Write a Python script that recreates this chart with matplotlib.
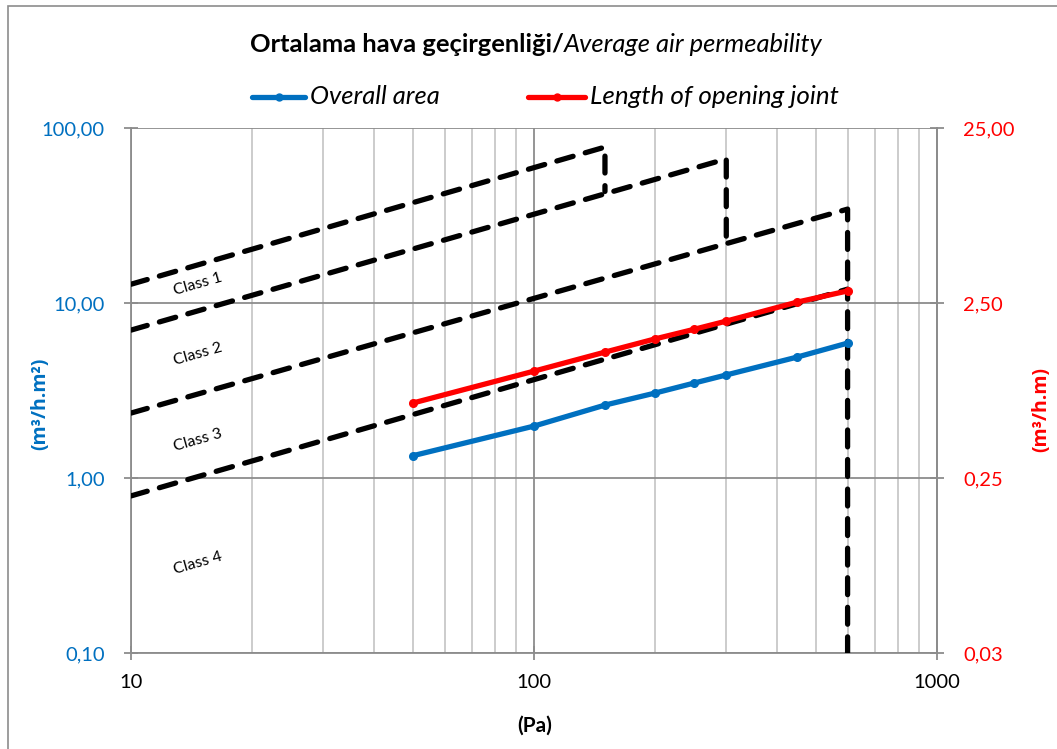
import matplotlib
matplotlib.use("Agg")
import matplotlib.pyplot as plt
from matplotlib.lines import Line2D
from matplotlib.patches import Rectangle
from matplotlib.ticker import FixedLocator, NullLocator, FixedFormatter, LogLocator

plt.rcParams['font.family'] = ['Lato', 'DejaVu Sans']

# ---------------- data ----------------
pressure = [50, 100, 150, 200, 250, 300, 450, 600]
overall_area = [1.34, 1.98, 2.61, 3.06, 3.49, 3.88, 4.91, 5.90]          # m3/h.m2 (left)
opening_joint = [0.67, 1.02, 1.31, 1.56, 1.77, 1.97, 2.53, 2.93]         # m3/h.m (right)

class1_x = [10, 150, 150]
class1_y = [12.8, 77.8, 43.4]
class2_x = [10, 300, 300]
class2_y = [7.0, 66.6, 22.6]
class3_x = [10, 600, 600]
class3_y = [2.35, 34.4, 12.0]
class4_x = [10, 600, 600]
class4_y = [0.79, 12.0, 0.10]

left_ticks = [0.1, 1, 10, 100]
left_labels = ['0,10', '1,00', '10,00', '100,00']
right_ticks = [0.025, 0.25, 2.5, 25]
right_labels = ['0,03', '0,25', '2,50', '25,00']
x_ticks = [10, 100, 1000]
x_labels = ['10', '100', '1000']

class_labels = ['Class 1', 'Class 2', 'Class 3', 'Class 4']

BLUE = '#0070C0'
RED = '#FF0000'
GRID_MAJ = '#8C8C8C'
GRID_MIN = '#BFBFBF'

W, H = 1057, 749
fig = plt.figure(figsize=(W / 100, H / 100), dpi=100)

# outer border
fig.add_artist(Rectangle((8 / W, -0.05), 1.2, 1 - 6 / H + 0.05, transform=fig.transFigure,
                         fill=False, edgecolor='#8C8C8C', lw=1.2))

L, R, T, B = 131, 937, 128, 653
ax = fig.add_axes([L / W, 1 - B / H, (R - L) / W, (B - T) / H])
ax.set_xscale('log')
ax.set_yscale('log')
ax.set_xlim(10, 1000)
ax.set_ylim(0.1, 100)

# grid
ax.xaxis.set_major_locator(FixedLocator(x_ticks))
ax.xaxis.set_major_formatter(FixedFormatter(x_labels))
ax.xaxis.set_minor_locator(LogLocator(base=10, subs=range(2, 10)))
ax.yaxis.set_major_locator(FixedLocator(left_ticks))
ax.yaxis.set_major_formatter(FixedFormatter(left_labels))
ax.yaxis.set_minor_locator(NullLocator())
ax.grid(True, which='major', color=GRID_MAJ, lw=1.3)
ax.grid(True, which='minor', axis='x', color=GRID_MIN, lw=1.1)
ax.set_axisbelow(True)
for s in ax.spines.values():
    s.set_color(GRID_MAJ)
    s.set_linewidth(1.3)
ax.spines['top'].set_visible(False)

ax.tick_params(axis='both', which='major', direction='inout', length=10, width=1.3,
               color=GRID_MAJ, labelsize=14.5)
ax.tick_params(axis='x', which='minor', length=0)
ax.tick_params(axis='x', which='major', pad=10, labelcolor='black')
ax.tick_params(axis='y', which='major', pad=14, labelcolor=BLUE)

# class lines
dash_kw = dict(color='black', lw=3.8, linestyle=(0, (3.2, 2.4)), dash_capstyle='round',
               zorder=3)
ax.plot(class1_x, class1_y, **dash_kw)
ax.plot(class2_x, class2_y, **dash_kw)
ax.plot(class3_x, class3_y, **dash_kw)
ax.plot(class4_x, class4_y, **dash_kw)

# overall area (left)
ax.plot(pressure, overall_area, color=BLUE, lw=3.8, marker='o', markersize=5.5,
        solid_capstyle='round', zorder=5)

# right axis
ax2 = ax.twinx()
ax2.set_yscale('log')
ax2.set_ylim(right_ticks[0], right_ticks[-1])
ax2.yaxis.set_major_locator(FixedLocator(right_ticks))
ax2.yaxis.set_major_formatter(FixedFormatter(right_labels))
ax2.yaxis.set_minor_locator(NullLocator())
for s in ax2.spines.values():
    s.set_visible(False)
ax2.spines['right'].set_visible(True)
ax2.spines['right'].set_color(GRID_MAJ)
ax2.spines['right'].set_linewidth(1.3)
ax2.tick_params(axis='y', which='major', direction='inout', length=10, width=1.3,
                color=GRID_MAJ, labelsize=14.5, labelcolor=RED, pad=14)
ax2.plot(pressure, opening_joint, color=RED, lw=3.8, marker='o', markersize=5.5,
         solid_capstyle='round', zorder=5)

# class labels
class_pos = [(198, 284), (198, 354), (198, 440), (198, 563)]
for txt, (px, py) in zip(class_labels, class_pos):
    fig.text(px / W, 1 - py / H, txt, fontsize=11.5, rotation=16, ha='center', va='center',
             color='black', rotation_mode='anchor')

# axis labels
lab_font = ['Open Sans', 'DejaVu Sans']
fig.text(40 / W, 1 - 404 / H, '(m³/h.m²)', rotation=90, color=BLUE, fontweight='bold',
         fontsize=14, ha='center', va='center', family=lab_font)
fig.text(1041 / W, 1 - 410 / H, '(m³/h.m)', rotation=90, color=RED, fontweight='bold',
         fontsize=14, ha='center', va='center', family=lab_font)
fig.text(535 / W, 1 - 726 / H, '(Pa)', color='black', fontweight='bold',
         fontsize=15, ha='center', va='center')

renderer = fig.canvas.get_renderer()


def width(t):
    return t.get_window_extent(renderer).width


# title (bold + italic parts)
ty = 1 - 45 / H
t1 = fig.text(250 / W, ty, 'Ortalama hava geçirgenliği/', fontweight='bold', fontsize=14,
              ha='left', va='center')
t2 = fig.text(0, ty, 'Average air permeability', fontstyle='italic', fontsize=14,
              ha='left', va='center')
scale = 575 / (width(t1) + width(t2))
t1.set_fontsize(14 * scale)
t2.set_fontsize(14 * scale)
t2.set_x((250 + width(t1)) / W)

# legend
ly = 1 - 97 / H
for (x0, x1, tx, tw, col, lab) in [(252, 305, 310, 130, BLUE, 'Overall area'),
                                   (528, 585, 590, 250, RED, 'Length of opening joint')]:
    fig.add_artist(Line2D([x0 / W, x1 / W], [ly, ly], transform=fig.transFigure,
                          color=col, lw=3.8, solid_capstyle='round'))
    fig.add_artist(Line2D([(x0 + x1) / 2 / W], [ly], transform=fig.transFigure,
                          color=col, marker='o', markersize=5, lw=0))
    t = fig.text(tx / W, ly, lab, fontstyle='italic', fontsize=14, ha='left', va='center')
    t.set_fontsize(14 * tw / width(t))

fig.savefig('out.png', dpi=100)
